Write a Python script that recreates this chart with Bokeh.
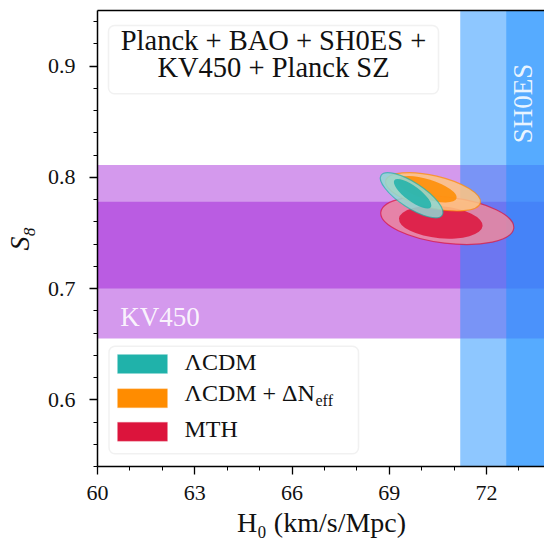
import numpy as np
from bokeh.plotting import figure
from bokeh.models import (BoxAnnotation, Label, FixedTicker, LinearAxis, Range1d)
from bokeh.embed import file_html
from bokeh.resources import INLINE

# ---------------- data ----------------
x_start, x_end = 60.0, 73.82
y_start, y_end = 0.54, 0.95
x_major = [60, 63, 66, 69, 72]
x_minor = [61, 62, 64, 65, 67, 68, 70, 71, 73]
y_major = [0.6, 0.7, 0.8, 0.9]
y_minor = [0.54, 0.56, 0.58, 0.62, 0.64, 0.66, 0.68, 0.72, 0.74, 0.76,
           0.78, 0.82, 0.84, 0.86, 0.88, 0.92, 0.94]

# KV450 S8 band (1 sigma, 2 sigma)
kv450_1s = [0.700, 0.778]
kv450_2s = [0.655, 0.811]
# SH0ES H0 = 74.03 +- 1.42 : lower edges of 1 sigma / 2 sigma bands
sh0es_1s_low = 72.61
sh0es_2s_low = 71.19

models = ["ΛCDM", "ΛCDM + ΔN", "MTH"]
colors = ["#20b2aa", "#ff8c00", "#dc143c"]
light_colors = ["#8fd8d4", "#ffc57f", "#ed899d"]

# 2-sigma (outer) contour ellipses: centre, extent along major axis (H0), minor (S8), angle (rad)
outer_h0 = [69.69, 70.35, 70.79]
outer_s8 = [0.7839, 0.7870, 0.7614]
outer_w = [2.25, 3.00, 4.13]
outer_h = [0.0225, 0.0290, 0.0414]
outer_ang = [-0.58, -0.23, -0.12]
# 1-sigma (inner) contour ellipses
inner_h0 = [69.72, 70.17, 70.59]
inner_s8 = [0.7852, 0.7893, 0.7596]
inner_w = [1.40, 1.90, 2.59]
inner_h = [0.0135, 0.0180, 0.0288]
inner_ang = [-0.64, -0.30, -0.09]

title_lines = ["Planck + BAO + SH0ES +", "KV450 + Planck SZ"]
kv450_text_pos = (60.70, 0.6642)
sh0es_text_pos = (73.47, 0.8307)

SERIF = "Liberation Serif"
ALPH = 0.43   # baseline correction (fraction of font size)

# ---------------- figure ----------------
p = figure(frame_width=448, frame_height=456,
           x_range=Range1d(x_start, x_end), y_range=Range1d(y_start, y_end),
           output_backend="svg", toolbar_location=None,
           min_border_left=88, min_border_right=0, min_border_top=10,
           min_border_bottom=72)
p.outline_line_color = None
p.xgrid.visible = False
p.ygrid.visible = False
p.background_fill_color = "white"
p.border_fill_color = "white"

# bands
p.add_layout(BoxAnnotation(bottom=kv450_2s[0], top=kv450_2s[1], fill_color="#9400d3",
                           fill_alpha=0.4, line_color=None, level="underlay"))
p.add_layout(BoxAnnotation(bottom=kv450_1s[0], top=kv450_1s[1], fill_color="#9400d3",
                           fill_alpha=0.4, line_color=None, level="underlay"))
p.add_layout(BoxAnnotation(left=sh0es_2s_low, fill_color="#1e90ff",
                           fill_alpha=0.5, line_color=None, level="underlay"))
p.add_layout(BoxAnnotation(left=sh0es_1s_low, fill_color="#1e90ff",
                           fill_alpha=0.5, line_color=None, level="underlay"))

# contours: drawn MTH first, then LCDM+Neff, then LCDM on top
for i in [2, 1, 0]:
    p.ellipse(x=[outer_h0[i]], y=[outer_s8[i]], width=[outer_w[i]], height=[outer_h[i]],
              angle=[outer_ang[i]], fill_color=light_colors[i], fill_alpha=0.85,
              line_color=colors[i], line_alpha=0.7, line_width=1.2)
    p.ellipse(x=[inner_h0[i]], y=[inner_s8[i]], width=[inner_w[i]], height=[inner_h[i]],
              angle=[inner_ang[i]], fill_color=colors[i], fill_alpha=0.85,
              line_color=None)

# band texts
p.add_layout(Label(x=kv450_text_pos[0], y=kv450_text_pos[1], text="KV450",
                   y_offset=ALPH * 27,
                   text_font=SERIF, text_font_size="27px", text_color="white",
                   text_alpha=0.9, text_baseline="alphabetic"))
p.add_layout(Label(x=sh0es_text_pos[0], y=sh0es_text_pos[1], text="SH0ES", angle=np.pi / 2,
                   x_offset=-ALPH * 27,
                   text_font=SERIF, text_font_size="27px", text_color="white",
                   text_alpha=0.9, text_baseline="alphabetic"))


def sbox(l, r, t, b, **kw):
    args = dict(left=l, right=r, top=t, bottom=b, left_units="screen",
                right_units="screen", top_units="screen", bottom_units="screen")
    args.update(kw)
    if "border_radius" in kw and "border_radius" not in BoxAnnotation.properties():
        args.pop("border_radius")
    return BoxAnnotation(**args)


def slabel(x, y, text, fs, **kw):
    return Label(x=x, y=y + ALPH * fs, x_units="screen", y_units="screen", text=text,
                 text_font=SERIF, text_font_size=f"{fs}px", text_color="#111111",
                 text_baseline="alphabetic", **kw)


# title box
p.add_layout(sbox(11, 341, 441, 372.7, fill_color="white", fill_alpha=0.8,
                  line_color="#d0d0d0", line_width=1.5, border_radius=6))
p.add_layout(slabel(176, 413.5, title_lines[0], 28.5, text_align="center"))
p.add_layout(slabel(176, 387.0, title_lines[1], 28.5, text_align="center"))

# legend
p.add_layout(sbox(11.5, 261, 120.3, 12.7, fill_color="white", fill_alpha=0.8,
                  line_color="#d0d0d0", line_width=1.5, border_radius=6))
sw_top = [112.0, 77.7, 44.3]
lab_base = [93.7, 63.0, 27.0]
for i in range(3):
    p.add_layout(sbox(20, 70, sw_top[i], sw_top[i] - 19, fill_color=colors[i],
                      fill_alpha=1.0, line_color=light_colors[i], line_width=1))
    p.add_layout(slabel(87, lab_base[i], models[i], 24))
p.add_layout(slabel(218, 59.0, "eff", 16))

# axes
for ax in [p.xaxis[0], p.yaxis[0]]:
    ax.axis_line_width = 1.5
    ax.major_tick_line_width = 1.3
    ax.minor_tick_line_width = 1.0
    ax.major_tick_in = 0
    ax.minor_tick_in = 0
    ax.major_tick_out = 8
    ax.minor_tick_out = 4
    ax.major_label_text_font = SERIF
    ax.major_label_text_font_size = "22px"
    ax.major_label_text_color = "#111111"
    ax.axis_label_text_font = SERIF
    ax.axis_label_text_font_size = "28px"
    ax.axis_label_text_color = "#111111"

p.xaxis[0].ticker = FixedTicker(ticks=x_major, minor_ticks=x_minor)
p.yaxis[0].ticker = FixedTicker(ticks=y_major, minor_ticks=y_minor)
p.xaxis[0].axis_label = "H₀ (km/s/Mpc)"
p.xaxis[0].axis_label_text_font_style = "normal"
p.xaxis[0].major_label_standoff = 11
p.xaxis[0].axis_label_standoff = 4
p.yaxis[0].axis_label = "S₈"
p.yaxis[0].axis_label_text_font_style = "italic"
p.yaxis[0].major_label_standoff = 14
p.yaxis[0].axis_label_standoff = 10

top_axis = LinearAxis(ticker=FixedTicker(ticks=[]), major_tick_out=0, minor_tick_out=0,
                      major_tick_in=0, minor_tick_in=0, major_label_standoff=0,
                      major_label_text_font_size="0px", axis_line_width=1.5)
p.add_layout(top_axis, "above")

open("out.html", "w").write(file_html(p, INLINE))
